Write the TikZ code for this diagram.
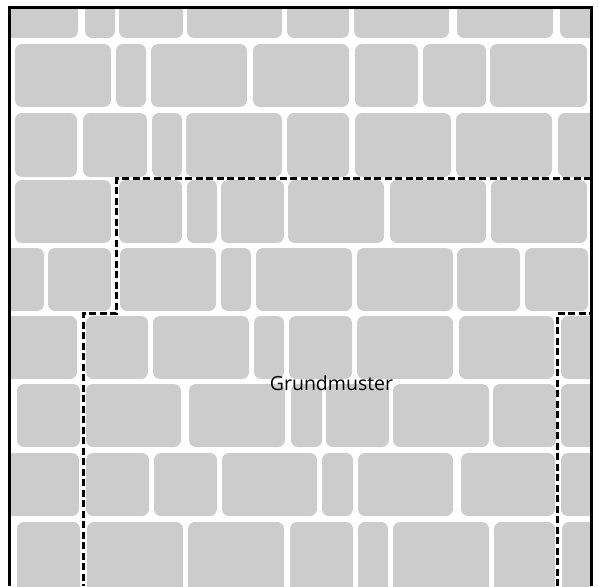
\documentclass[tikz,border=0pt]{standalone}
\usepackage{fontspec}
\setmainfont{Open Sans}
\usetikzlibrary{positioning}
\definecolor{stonegray}{HTML}{CCCCCC}
\tikzset{
  stone style/.style={fill=stonegray, rounded corners=7pt},
  frame style/.style={line width=3pt, draw=black},
  outline style/.style={line width=3pt, dash pattern=on 7pt off 3.5pt},
  lbl style/.style={font=\fontsize{19.5}{22}\selectfont, anchor=base, inner sep=0pt}
}
\begin{document}
\begin{tikzpicture}[x=1pt, y=-1pt]
\useasboundingbox (0,0) rectangle (599,586);

% paving stones, row by row
\begin{scope}
\clip (10,7) rectangle (591,586);
\foreach \a/\b in {-20/78,85/115,119/183,187/282,287/349,354/449,457/553,560/620}
  \fill[stone style] (\a,-25) rectangle (\b,38);
\foreach \a/\b in {15/111,116/146,151/247,253/349,355/418,423/486,490/587}
  \fill[stone style] (\a,44) rectangle (\b,107);
\foreach \a/\b in {15/77,83/147,152/182,186/282,287/349,355/451,456/552,558/620}
  \fill[stone style] (\a,113) rectangle (\b,177);
\foreach \a/\b in {15/111,119/182,187/217,221/284,288/384,390/486,491/587}
  \fill[stone style] (\a,180) rectangle (\b,243);
\foreach \a/\b in {-20/44,48/111,120/216,221/251,256/352,357/453,457/520,525/588}
  \fill[stone style] (\a,248) rectangle (\b,311);
\foreach \a/\b in {-20/77,86/148,153/249,254/284,289/352,357/453,459/554,561/620}
  \fill[stone style] (\a,316) rectangle (\b,379);
\foreach \a/\b in {17/80,86/181,189/285,291/322,326/389,393/489,493/556,561/620}
  \fill[stone style] (\a,384) rectangle (\b,447);
\foreach \a/\b in {-20/79,86/149,154/217,222/317,322/353,358/453,461/555,561/620}
  \fill[stone style] (\a,453) rectangle (\b,516);
\foreach \a/\b in {17/80,87/183,188/284,290/353,358/388,393/489,494/555,562/620}
  \fill[stone style] (\a,522) rectangle (\b,600);
\end{scope}

% frame
\draw[frame style] (9.5,586) -- (9.5,7.5) -- (591.5,7.5) -- (591.5,586);

% outline of the base pattern
\draw[outline style] (591,178.5) -- (116.5,178.5) -- (116.5,313.5) -- (83,313.5) -- (83,586);
\draw[outline style] (557,586) -- (557,313.5) -- (591,313.5);

\node[lbl style] (grund) at (331.5,390) {Grundmuster};

\end{tikzpicture}
\end{document}
